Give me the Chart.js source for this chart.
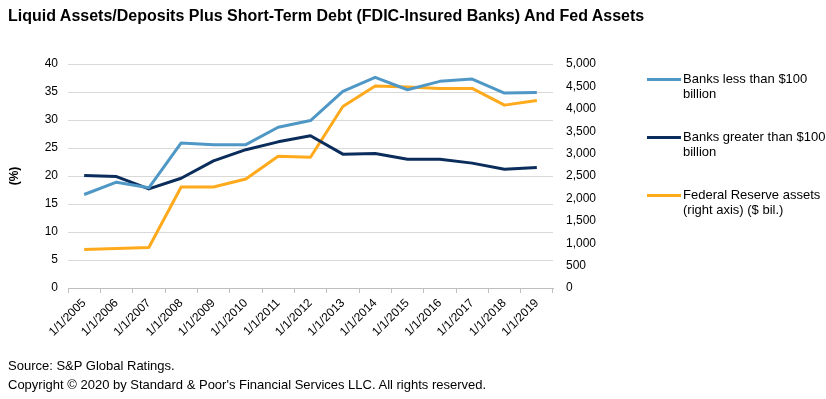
<!DOCTYPE html>
<html>
<head>
<meta charset="utf-8">
<script src="https://cdn.jsdelivr.net/npm/chart.js@4.4.1/dist/chart.umd.min.js"></script>
<style>
  html, body { margin: 0; padding: 0; background: #fff; }
  body { width: 826px; height: 399px; position: relative; overflow: hidden; font-family: 'Liberation Sans', Arial, sans-serif; color: #000; }
  #title { position: absolute; left: 8px; top: 7px; font-size: 16px; font-weight: bold; white-space: nowrap; }
  #wrap { position: absolute; left: 0; top: 0; width: 826px; height: 399px; }
  .note { position: absolute; left: 8px; font-size: 13px; white-space: nowrap; }
  #legend { position: absolute; left: 647px; top: 71px; font-size: 13px; }
  .item { position: absolute; left: 0; width: 180px; }
  .swatch { position: absolute; left: 0; top: 7px; width: 34px; height: 3px; }
  .label { position: absolute; left: 36px; top: 0; line-height: 15px; white-space: nowrap; }
</style>
</head>
<body>
<div id="wrap"><canvas id="chart"></canvas></div>
<div id="title">Liquid Assets/Deposits Plus Short-Term Debt (FDIC-Insured Banks) And Fed Assets</div>
<div id="legend"></div>
<div class="note" style="top:358px">Source: S&amp;P Global Ratings.</div>
<div class="note" style="top:377px">Copyright © 2020 by Standard &amp; Poor's Financial Services LLC. All rights reserved.</div>
<script>
// Data
var years = ['1/1/2005', '1/1/2006', '1/1/2007', '1/1/2008', '1/1/2009', '1/1/2010', '1/1/2011', '1/1/2012',
  '1/1/2013', '1/1/2014', '1/1/2015', '1/1/2016', '1/1/2017', '1/1/2018', '1/1/2019'];
var banksSmall = [16.7, 18.9, 17.9, 25.9, 25.6, 25.6, 28.7, 29.9, 35.1, 37.6, 35.4, 36.9, 37.3, 34.8, 34.9];
var banksLarge = [20.1, 19.9, 17.7, 19.6, 22.7, 24.7, 26.1, 27.2, 23.9, 24.0, 23.0, 23.0, 22.3, 21.2, 21.5];
var fedAssets = [858, 880, 903, 2254, 2254, 2433, 2940, 2918, 4052, 4507, 4485, 4455, 4455, 4082, 4187];

var seriesNames = ['Banks less than $100 billion', 'Banks greater than $100 billion', 'Federal Reserve assets (right axis) ($ bil.)'];
var legendLines = [['Banks less than $100', 'billion'], ['Banks greater than $100', 'billion'], ['Federal Reserve assets', '(right axis) ($ bil.)']];
var colors = ['#4f98c6', '#0b2d5c', '#ffaa1d'];

var FONT = "'Liberation Sans', Arial, sans-serif";
Chart.defaults.font.family = FONT;
Chart.defaults.font.size = 12;
Chart.defaults.color = '#000';

// Legend (right side)
var legend = document.getElementById('legend');
legendLines.forEach(function (lines, i) {
  var item = document.createElement('div');
  item.className = 'item';
  item.style.top = (i * 58) + 'px';
  item.innerHTML = '<div class="swatch" style="background:' + colors[i] + '"></div>' +
    '<div class="label">' + lines.join('<br>') + '</div>';
  legend.appendChild(item);
});

new Chart(document.getElementById('chart'), {
  type: 'line',
  data: {
    labels: years,
    datasets: [
      { label: seriesNames[0], data: banksSmall, borderColor: colors[0], yAxisID: 'y' },
      { label: seriesNames[1], data: banksLarge, borderColor: colors[1], yAxisID: 'y' },
      { label: seriesNames[2], data: fedAssets, borderColor: colors[2], yAxisID: 'y1' }
    ]
  },
  options: {
    responsive: true,
    maintainAspectRatio: false,
    animation: false,
    layout: { padding: { top: 64, right: 0, left: 0, bottom: 0 } },
    elements: {
      line: { borderWidth: 3, tension: 0, borderCapStyle: 'butt', borderJoinStyle: 'round' },
      point: { radius: 0 }
    },
    plugins: { legend: { display: false }, tooltip: { enabled: false } },
    scales: {
      x: {
        offset: true,
        grid: { offset: true, drawOnChartArea: false, drawTicks: true, tickLength: 5, color: '#bfbfbf' },
        border: { display: true, color: '#bfbfbf' },
        ticks: { minRotation: 45, maxRotation: 45, autoSkip: false, padding: 3, color: '#000' },
        afterFit: function (s) { s.height = 399 - 288; }
      },
      y: {
        position: 'left',
        min: 0, max: 40,
        ticks: { stepSize: 5, padding: 10, color: '#000' },
        grid: { color: '#d9d9d9', drawTicks: false },
        border: { display: false },
        title: { display: true, text: '(%)', font: { weight: 'bold', size: 12 }, padding: { top: 7, bottom: 0 } },
        afterFit: function (s) { s.width = 68; }
      },
      y1: {
        position: 'right',
        min: 0, max: 5000,
        ticks: {
          stepSize: 500, padding: 13, color: '#000',
          callback: function (v) { return v.toLocaleString('en-US'); }
        },
        grid: { drawOnChartArea: false, drawTicks: false },
        border: { display: false },
        afterFit: function (s) { s.width = 826 - 553; }
      }
    }
  }
});
</script>
</body>
</html>
